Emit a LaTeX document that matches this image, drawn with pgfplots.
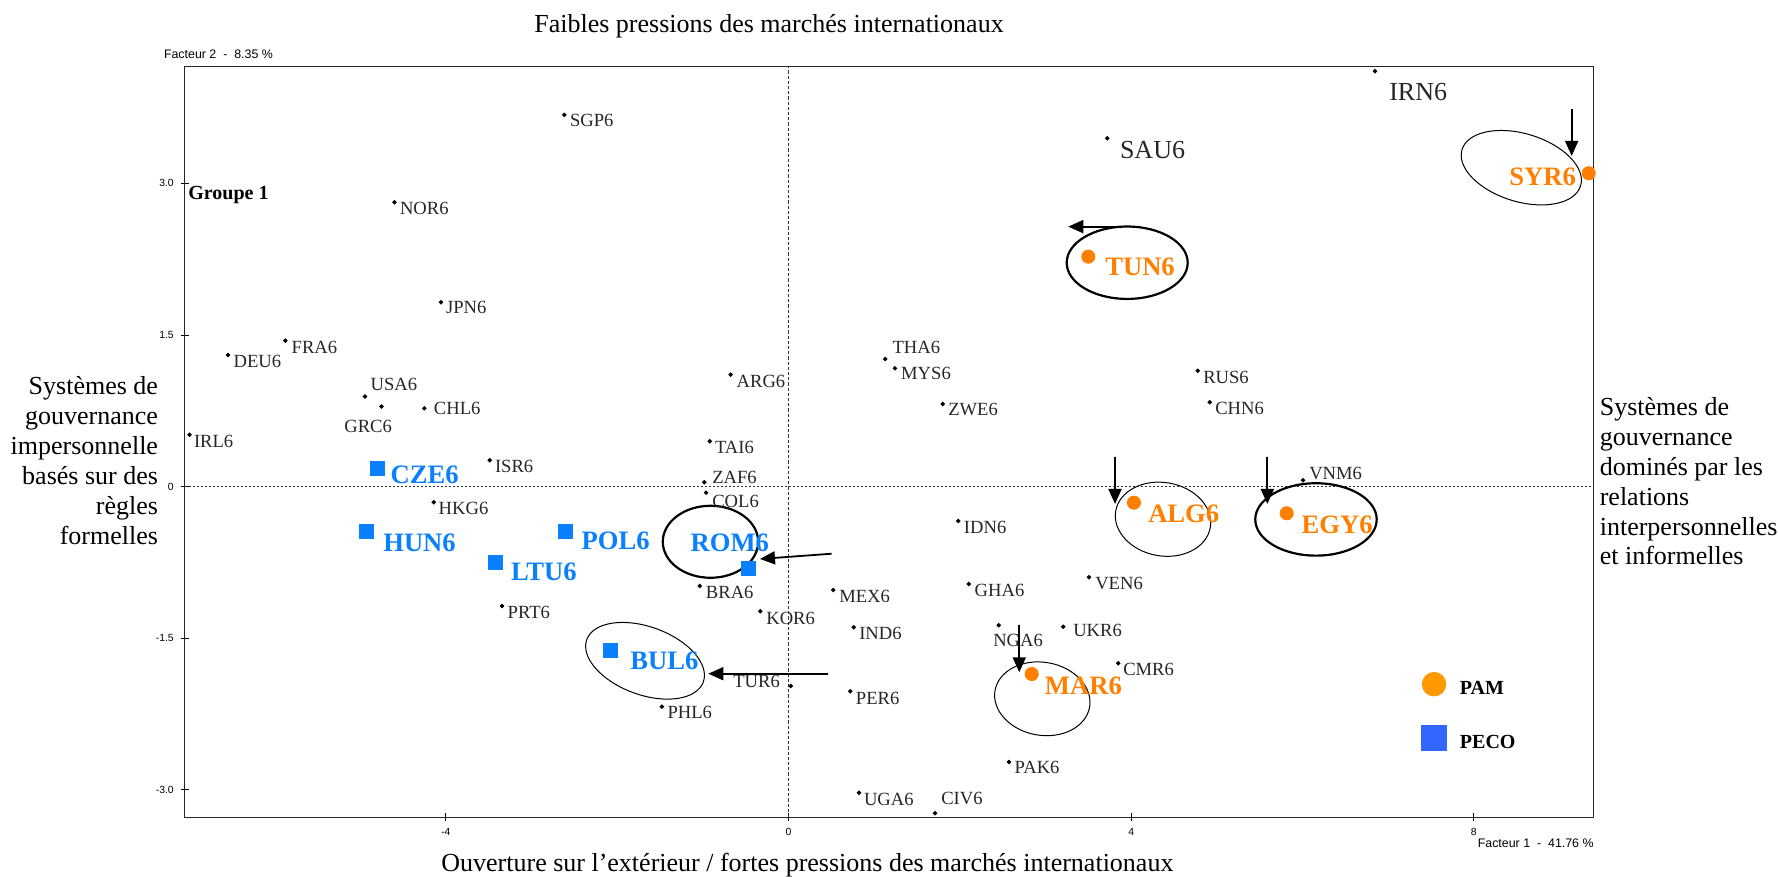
\documentclass[border=0pt]{standalone}
\usepackage{fontspec}
\setmainfont{Liberation Serif}
\newfontfamily\sansf{Liberation Sans}
\usepackage{pgfplots}
\pgfplotsset{compat=1.18}
\usepackage{pgfplotstable}
\usetikzlibrary{arrows.meta,shapes.geometric}

\definecolor{pamc}{HTML}{FF8000}
\definecolor{pecoc}{HTML}{0A80FF}
\definecolor{pamleg}{HTML}{FF9900}
\definecolor{pecoleg}{HTML}{3366FF}
\newcommand\sidefont{\fontsize{13}{15}\selectfont}
\newcommand\lblfont{\fontsize{9.3}{11}\selectfont}

\pgfplotstableread{
x y label dx dy
-2.617 3.677 SGP6 2.85 -5.85
-4.601 2.813 NOR6 2.8 -6.35
-4.058 1.824 JPN6 2.55 -5.85
-5.874 1.444 FRA6 3.15 -6.3
-6.544 1.303 DEU6 2.85 -6.15
-4.944 0.892 USA6 2.85 2.9
-4.751 0.793 GRC6 -18.6 -12.75
-4.252 0.775 CHL6 4.85 -3
-6.994 0.514 IRL6 2.3 -6.3
-3.488 0.261 ISR6 2.65 -6.2
-4.142 -0.154 HKG6 2.5 -6.35
-3.345 -1.180 PRT6 2.85 -6.35
-1.478 -2.176 PHL6 2.85 -6.15
-1.037 -0.982 BRA6 3.15 -6.15
-0.329 -1.232 KOR6 3 -6.5
0.026 -1.971 TUR6 -28.7 -0.65
-0.675 1.108 ARG6 3 -6.5
-0.920 0.449 TAI6 2.65 -6.35
-0.983 0.044 ZAF6 4 -0.5
-0.963 -0.059 COL6 3.15 -7.5
0.523 -1.022 MEX6 3 -6.15
0.761 -1.391 IND6 2.8 -6
0.721 -2.024 PER6 2.85 -6.35
0.823 -3.027 UGA6 2.5 -6.3
1.710 -3.230 CIV6 3.15 4.15
1.129 1.263 THA6 3.7 2.85
1.242 1.171 MYS6 3.15 -5.85
1.800 0.818 ZWE6 2.8 -6
1.982 -0.339 IDN6 2.85 -6.15
2.104 -0.963 GHA6 3 -6.35
2.454 -1.370 NGA6 -2.7 -10.75
3.208 -1.385 UKR6 5 -4.65
3.850 -1.747 CMR6 2.5 -6.2
2.574 -2.723 PAK6 2.85 -6
3.508 -0.896 VEN6 3.15 -6.35
4.777 1.147 RUS6 2.8 -6.3
4.917 0.835 CHN6 2.8 -6.35
6.006 0.063 VNM6 3.15 0.5
}\blacktab

\pgfplotstableread{
x y label dx dy
3.722 3.446 SAU6 6.35 -10
6.847 4.109 IRN6 7.15 -14.7
}\bigtab

\pgfplotstableread{
x y label dx dy
9.342 3.100 SYR6 -39.7 -6.35
3.500 2.275 TUN6 8.5 -9.5
4.033 -0.158 ALG6 7.15 -10
5.816 -0.263 EGY6 7.5 -10
2.839 -1.853 MAR6 6.65 -10
}\pamtab

\pgfplotstableread{
x y label dx dy
-4.804 0.178 CZE6 6.85 -7.65
-4.924 -0.445 HUN6 8.3 -10
-2.601 -0.438 POL6 8 -9.15
-3.426 -0.748 LTU6 8 -8.85
-0.465 -0.809 ROM6 -29 8.4
-2.081 -1.622 BUL6 10.05 -9.3
}\pecotab

\pgfplotsset{
  lbl/.style={
    point meta=explicit symbolic,
    visualization depends on={\thisrow{dx}\as\dx},
    visualization depends on={\thisrow{dy}\as\dy},
    nodes near coords,
    every node near coord/.append style={anchor=base west, xshift=\dx pt, yshift=\dy pt, inner sep=0pt, outer sep=0pt},
  }
}

\begin{document}
\begin{tikzpicture}
\begin{axis}[
  scale only axis, width=704.35pt, height=375.3pt,
  xmin=-7.048, xmax=9.398, ymin=-3.270, ymax=4.154,
  xtick={-4,0,4,8}, xticklabels={-4,0,4,8},
  ytick={-3,-1.5,0,1.5,3}, yticklabels={-3.0,-1.5,0,1.5,3.0},
  xtick pos=left, ytick pos=left,
  tick align=center, major tick length=4pt,
  tick style={black, line width=0.5pt},
  ticklabel style={font=\sansf\fontsize{5.2}{6}\selectfont},
  axis line style={line width=0.6pt, black!85},
  clip=false,
  legend style={at={(axis cs:7.386,-1.833)}, anchor=north west, draw=none, fill=none,
    inner sep=0pt, outer sep=0pt, row sep=11.7pt, column sep=4.5pt,
    font=\bfseries\fontsize{10}{12}\selectfont},
  legend cell align=left,
]
\coordinate (SW) at (rel axis cs:0,0);
\draw[black!80, line width=0.5pt, dash pattern=on 1.6pt off 1pt] (axis cs:0,-3.27) -- (axis cs:0,4.154);
\draw[black!80, line width=0.5pt, dash pattern=on 1pt off 1pt] (axis cs:-7.048,0) -- (axis cs:9.398,0);

\addplot[only marks, mark=*, mark size=0.9pt, black, forget plot, lbl,
  every node near coord/.append style={font=\lblfont, text=black!85}]
  table[x=x, y=y, meta=label] {\blacktab};
\addplot[only marks, mark=*, mark size=0.9pt, black, forget plot, lbl,
  every node near coord/.append style={font=\fontsize{13}{15}\selectfont, text=black!85}]
  table[x=x, y=y, meta=label] {\bigtab};
\addplot[only marks, mark=*, mark size=3.3pt, pamc, forget plot, lbl,
  every node near coord/.append style={font=\bfseries\fontsize{13.3}{15}\selectfont, text=pamc}]
  table[x=x, y=y, meta=label] {\pamtab};
\addplot[only marks, mark=square*, mark size=3.5pt, pecoc, forget plot, lbl,
  every node near coord/.append style={font=\bfseries\fontsize{13.3}{15}\selectfont, text=pecoc}]
  table[x=x, y=y, meta=label] {\pecotab};

\addlegendimage{legend image code/.code={\fill[pamleg] (6.25pt,2.8pt) circle (5.9pt);}}
\addlegendentry{PAM}
\addlegendimage{legend image code/.code={\fill[pecoleg] (0pt,-3.45pt) rectangle (12.5pt,9.05pt);}}
\addlegendentry{PECO}

% ellipses
\node[draw, ellipse, line width=0.5pt, minimum width=62pt, minimum height=34pt, inner sep=0pt, rotate=-17] at (axis cs:8.555,3.155) {};
\node[draw, ellipse, line width=1.1pt, minimum width=60.5pt, minimum height=36.2pt, inner sep=0pt] at (axis cs:3.954,2.215) {};
\node[draw, ellipse, line width=0.5pt, minimum width=48pt, minimum height=36.7pt, inner sep=0pt, rotate=-10] at (axis cs:4.372,-0.322) {};
\node[draw, ellipse, line width=1.1pt, minimum width=60.7pt, minimum height=36.2pt, inner sep=0pt] at (axis cs:6.158,-0.324) {};
\node[draw, ellipse, line width=0.5pt, minimum width=48pt, minimum height=36.5pt, inner sep=0pt, rotate=-10] at (axis cs:2.963,-2.098) {};
\node[draw, ellipse, line width=1.1pt, minimum width=47.7pt, minimum height=36pt, inner sep=0pt] at (axis cs:-0.911,-0.545) {};
\node[draw, ellipse, line width=0.5pt, minimum width=62pt, minimum height=34pt, inner sep=0pt, rotate=-20] at (axis cs:-1.675,-1.722) {};

% arrows
\begin{scope}[line width=0.9pt, -{Triangle[length=7.5pt,width=6.5pt]}]
\draw (axis cs:9.143,3.736) -- (axis cs:9.143,3.271);
\draw (axis cs:3.831,2.572) -- (axis cs:3.266,2.572);
\draw (axis cs:3.812,0.297) -- (axis cs:3.812,-0.171);
\draw (axis cs:5.590,0.297) -- (axis cs:5.590,-0.171);
\draw (axis cs:2.694,-1.368) -- (axis cs:2.694,-1.836);
\draw (axis cs:0.504,-0.663) -- (axis cs:-0.333,-0.715);
\draw (axis cs:0.461,-1.850) -- (axis cs:-0.936,-1.850);
\end{scope}
\end{axis}

\node[anchor=base west, inner sep=0pt, font=\sidefont] at ([shift={(174.6pt,392.5pt)}]SW) {Faibles pressions des marchés internationaux};
\node[anchor=base west, inner sep=0pt, font=\sidefont] at ([shift={(128.1pt,-27.2pt)}]SW) {Ouverture sur l’extérieur / fortes pressions des marchés internationaux};
\foreach \t [count=\i from 0] in {Systèmes de, gouvernance, impersonnelle, basés sur des, règles, formelles}
  \node[anchor=base east, inner sep=0pt, font=\sidefont] at ([shift={(-13.2pt,{211.15pt-\i*14.95pt})}]SW) {\t};
\foreach \t [count=\i from 0] in {Systèmes de, gouvernance, dominés par les, relations, interpersonnelles, et informelles}
  \node[anchor=base west, inner sep=0pt, font=\sidefont] at ([shift={(707.3pt,{200.65pt-\i*14.9pt})}]SW) {\t};
\node[anchor=base west, inner sep=0pt, font=\sansf\fontsize{6.2}{7}\selectfont] at ([shift={(-10.6pt,379.15pt)}]SW) {Facteur 2\ \ -\ \ 8.35 \%};
\node[anchor=base east, inner sep=0pt, font=\sansf\fontsize{6.2}{7}\selectfont] at ([shift={(704.6pt,-15.35pt)}]SW) {Facteur 1\ \ -\ \ 41.76 \%};
\node[anchor=base west, inner sep=0pt, font=\bfseries\fontsize{10}{12}\selectfont] at ([shift={(1.6pt,308.65pt)}]SW) {Groupe 1};

\pgfresetboundingbox
\path ([shift={(-92.4pt,-29.85pt)}]SW) rectangle ([shift={(796.6pt,408.65pt)}]SW);
\end{tikzpicture}
\end{document}
